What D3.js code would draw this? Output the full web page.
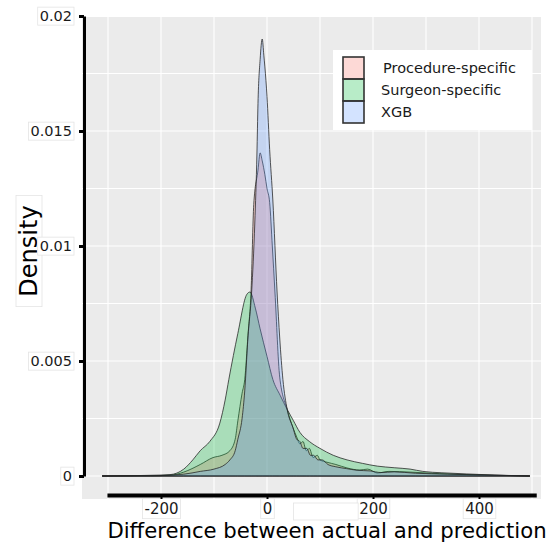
<!DOCTYPE html>
<html>
<head>
<meta charset="utf-8">
<script src="https://cdn.jsdelivr.net/npm/d3@7"></script>
<style>
  body { margin: 0; background: #fff; }
  svg { display: block; font-family: "DejaVu Sans", Verdana, sans-serif; }
</style>
</head>
<body>
<div id="chart"></div>
<script>
(function() {
  // series (x = actual - prediction, d = density)
  var seriesNames = ['Procedure-specific', 'Surgeon-specific', 'XGB'];
  var seriesColors = ['#F8766D', '#00BA38', '#619CFF'];

  var procX = [-311, -220, -183, -157, -126, -102, -85, -70, -60, -55, -47, -42, -36, -30, -25, -17, -13, -9, -4, 0, 5, 10, 15, 24, 38, 49, 56, 62, 68, 74, 80, 87, 95, 100, 113, 130, 151, 175, 190, 208, 230, 270, 326, 402, 496];
  var procD = [0, 0.00001, 0.00003, 0.00017, 0.0005, 0.0008, 0.0009, 0.0011, 0.0016, 0.0024, 0.0036, 0.0042, 0.0061, 0.0081, 0.0118, 0.0133, 0.01405, 0.0137, 0.0131, 0.0125, 0.0119, 0.0100, 0.0080, 0.0043, 0.0029, 0.0021, 0.0017, 0.0014, 0.0015, 0.0011, 0.0012, 0.0008, 0.0009, 0.0007, 0.0006, 0.0005, 0.00035, 0.00026, 0.0003, 0.00013, 0.0002, 0.00017, 0.0001, 0.00005, 0];

  var surgX = [-311, -260, -221, -183, -157, -140, -126, -108, -89, -79, -72, -55, -38, -32, -22, -13, 0, 11, 25, 38, 50, 62, 80, 100, 125, 151, 180, 208, 240, 270, 294, 330, 377, 430, 496];
  var surgD = [0, 0.00001, 0.00003, 0.00006, 0.0003, 0.0007, 0.0011, 0.0015, 0.0023, 0.0033, 0.0042, 0.0062, 0.0079, 0.0080, 0.0073, 0.0064, 0.0052, 0.0042, 0.0035, 0.0029, 0.0024, 0.0019, 0.0015, 0.0012, 0.0009, 0.0007, 0.00055, 0.00043, 0.00036, 0.0003, 0.0002, 0.00014, 0.00009, 0.00004, 0];

  var xgbX = [-311, -220, -157, -126, -100, -79, -70, -60, -55, -47, -42, -36, -29, -23, -19, -17, -13, -9, -6, -2, 0, 5, 11, 19, 24, 30, 38, 49, 56, 62, 68, 75, 82, 88, 96, 104, 115, 130, 150, 170, 195, 215, 240, 280, 340, 410, 496];
  var xgbD = [0, 0.00001, 0.00008, 0.0002, 0.0003, 0.0005, 0.0007, 0.0011, 0.0016, 0.0025, 0.0037, 0.0060, 0.0080, 0.0110, 0.0140, 0.0162, 0.0181, 0.0190, 0.0183, 0.0172, 0.0165, 0.0142, 0.0120, 0.0080, 0.0060, 0.0042, 0.0029, 0.0021, 0.0016, 0.0015, 0.0012, 0.0012, 0.0009, 0.0009, 0.0007, 0.0007, 0.0005, 0.0004, 0.00032, 0.00025, 0.00022, 0.00015, 0.00018, 0.00012, 0.00008, 0.00004, 0];

  var xTicks = [-200, 0, 200, 400];
  var xGrid = [-300, -200, -100, 0, 100, 200, 300, 400, 500];
  var yTicks = [0, 0.005, 0.01, 0.015, 0.02];
  var yTickLabels = ['0', '0.005', '0.01', '0.015', '0.02'];
  var yGrid = [0, 0.0025, 0.005, 0.0075, 0.01, 0.0125, 0.015, 0.0175, 0.02];

  function zip(xs, ds) {
    return xs.map(function(v, i) { return { x: v, d: ds[i] }; });
  }
  var series = [zip(procX, procD), zip(surgX, surgD), zip(xgbX, xgbD)];

  var width = 548,
      height = 543,
      panel = { left: 82, right: 541, top: 17, bottom: 499 },
      x = d3.scaleLinear().domain([-300, 500]).range([108, 532]),
      y = d3.scaleLinear().domain([0, 0.02]).range([476, 16]);

  var svg = d3.select('#chart')
    .append('svg')
      .attr('width', width)
      .attr('height', height);

  // white box behind a label (same transform as the text)
  function box(sel, padX, padY) {
    sel.each(function() {
      var b = this.getBBox(),
          parent = this.parentNode;
      d3.select(parent).insert('rect', function() { return parent.firstChild; })
        .attr('transform', this.getAttribute('transform'))
        .attr('x', b.x - padX).attr('y', b.y - padY)
        .attr('width', b.width + 2 * padX).attr('height', b.height + 2 * padY)
        .attr('fill', '#fff').attr('stroke', '#e4e4e4').attr('stroke-width', 0.8);
    });
  }

  // y title first, so the tick labels sit on top of its box
  var yt = svg.append('g');
  yt.append('text')
    .attr('transform', 'translate(37,251) rotate(-90)')
    .attr('text-anchor', 'middle')
    .attr('font-size', 24)
    .attr('fill', '#000')
    .text('Density');
  box(yt.selectAll('text'), 10, -1);

  // panel + grid
  svg.append('rect')
    .attr('x', panel.left).attr('y', panel.top)
    .attr('width', panel.right - panel.left)
    .attr('height', panel.bottom - panel.top)
    .attr('fill', '#EBEBEB');

  svg.append('g').selectAll('line')
    .data(xGrid).enter().append('line')
      .attr('x1', x).attr('x2', x)
      .attr('y1', panel.top).attr('y2', panel.bottom)
      .attr('stroke', '#fff').attr('stroke-width', 1.1);

  svg.append('g').selectAll('line')
    .data(yGrid).enter().append('line')
      .attr('x1', panel.left).attr('x2', panel.right)
      .attr('y1', y).attr('y2', y)
      .attr('stroke', '#fff').attr('stroke-width', 1.1);

  // density areas
  var area = d3.area()
      .curve(d3.curveMonotoneX)
      .x(function(d) { return x(d.x); })
      .y0(y(0))
      .y1(function(d) { return y(d.d); });

  svg.append('g').selectAll('path')
    .data(series).enter().append('path')
      .attr('d', area)
      .attr('fill', function(d, i) { return seriesColors[i]; })
      .attr('fill-opacity', 0.28)
      .attr('stroke', '#222')
      .attr('stroke-opacity', 0.85)
      .attr('stroke-width', 0.9);

  // y axis
  var yAxis = d3.axisLeft(y)
      .tickValues(yTicks)
      .tickSize(5)
      .tickSizeOuter(0)
      .tickPadding(7)
      .tickFormat(function(d) { return yTickLabels[yTicks.indexOf(d)]; });

  var gy = svg.append('g')
    .attr('transform', 'translate(84,0)')
    .call(yAxis);
  gy.select('.domain').attr('stroke', '#000').attr('stroke-width', 3);
  gy.selectAll('.tick line').attr('stroke', '#000').attr('stroke-width', 3);
  gy.selectAll('.tick text')
    .attr('font-size', 14.5).attr('fill', '#1a1a1a')
    .attr('font-family', '"DejaVu Sans", Verdana, sans-serif');
  box(gy.selectAll('.tick text'), 2, 1);

  // x axis (line runs a bit past the last tick)
  var xLine = x.copy().domain([-302, 508]).range([x(-302), x(508)]);
  var xAxis = d3.axisBottom(xLine)
      .tickValues(xTicks)
      .tickSize(4)
      .tickSizeOuter(0)
      .tickPadding(4)
      .tickFormat(d3.format('d'));

  var gx = svg.append('g')
    .attr('transform', 'translate(0,495)')
    .call(xAxis);
  gx.select('.domain').attr('stroke', '#000').attr('stroke-width', 4);
  gx.selectAll('.tick line').attr('stroke', '#000').attr('stroke-width', 2);
  gx.selectAll('.tick text')
    .attr('font-size', 15).attr('fill', '#1a1a1a')
    .attr('font-family', '"DejaVu Sans", Verdana, sans-serif')
    .text(function(d) { return d < 0 ? '-' + Math.abs(d) : d; });
  box(gx.selectAll('.tick text'), 2, 1);

  // stray empty label box under the axis
  svg.append('rect')
    .attr('x', x(50)).attr('y', 503)
    .attr('width', x(172) - x(50)).attr('height', 17)
    .attr('fill', '#fff').attr('stroke', '#e4e4e4').attr('stroke-width', 0.8);

  svg.append('text')
    .attr('x', 327).attr('y', 538)
    .attr('text-anchor', 'middle')
    .attr('font-size', 21.2)
    .attr('fill', '#000')
    .text('Difference between actual and prediction');

  // legend
  var legend = svg.append('g').attr('transform', 'translate(333,50)');
  legend.append('rect')
    .attr('width', 199).attr('height', 80)
    .attr('fill', '#fff');

  var key = legend.selectAll('.key')
    .data(seriesNames).enter().append('g')
      .attr('class', 'key')
      .attr('transform', function(d, i) { return 'translate(10,' + (7 + i * 22) + ')'; });

  key.append('rect')
    .attr('width', 21).attr('height', 22)
    .attr('fill', function(d, i) { return seriesColors[i]; })
    .attr('fill-opacity', 0.28)
    .attr('stroke', '#333').attr('stroke-width', 1.6);

  key.append('text')
    .attr('x', function(d, i) { return i == 0 ? 40 : 38; })
    .attr('y', 11)
    .attr('dy', '0.35em')
    .attr('font-size', 14.5)
    .attr('fill', '#1a1a1a')
    .text(function(d) { return d; });
})();
</script>
</body>
</html>
